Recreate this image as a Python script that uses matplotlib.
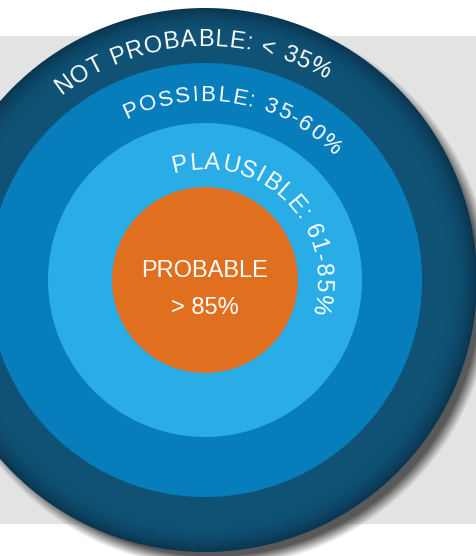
import numpy as np
import matplotlib
matplotlib.use('Agg')
import matplotlib.pyplot as plt
from matplotlib.patches import Circle, Rectangle
from matplotlib.font_manager import FontProperties, findfont, get_font

# Категории и диапазоны вероятности (от внешнего кольца к центру)
categories = ['NOT PROBABLE', 'POSSIBLE', 'PLAUSIBLE', 'PROBABLE']
ranges = ['< 35%', '35-60%', '61-85%', '> 85%']

# Оформление
colors = ['#0f5275', '#087dbb', '#2aace6', '#e07020']
radii = [272, 217, 157, 93]
cx, cy = 205, 280
W, H = 477, 556
DPI = 100
FAMILY = 'Liberation Sans'

fig = plt.figure(figsize=(W / DPI, H / DPI), dpi=DPI)
ax = fig.add_axes([0, 0, 1, 1])
ax.set_xlim(0, W)
ax.set_ylim(H, 0)
ax.set_aspect('equal')
ax.axis('off')

# Серая полоса фона
ax.add_patch(Rectangle((0, 36), W, 487, color='#e3e3e3', zorder=0))

# Тень от внешнего круга (размытая)
yy, xx = np.mgrid[0:H, 0:W] + 0.5
d_sh = np.hypot(xx - (cx + 9), yy - (cy + 10))
blur = 6.0
a_sh = np.clip((radii[0] + blur - d_sh) / (2 * blur), 0, 1) * 0.97
shadow = np.zeros((H, W, 4))
shadow[..., :3] = 0.33
shadow[..., 3] = a_sh
ax.imshow(shadow, extent=(0, W, H, 0), zorder=1, interpolation='bilinear')

# Внешнее кольцо с радиальным градиентом (темнее к краю)
d = np.hypot(xx - cx, yy - cy)
t = np.clip((d - 245) / (radii[0] - 245), 0, 1) ** 1.8
c_in = np.array(matplotlib.colors.to_rgb(colors[0]))
c_out = np.array(matplotlib.colors.to_rgb('#0a3550'))
ring = np.zeros((H, W, 4))
ring[..., :3] = c_in * (1 - t[..., None]) + c_out * t[..., None]
ring[..., 3] = np.clip(radii[0] + 0.5 - d, 0, 1)
ax.imshow(ring, extent=(0, W, H, 0), zorder=2, interpolation='bilinear')

# Внутренние круги
for r, c in zip(radii[1:], colors[1:]):
    ax.add_patch(Circle((cx, cy), r, color=c, zorder=3, lw=0))


def char_adv(ch, fs):
    fp = FontProperties(family=FAMILY, size=fs)
    font = get_font(findfont(fp))
    font.set_size(fs, DPI)
    return font.load_char(ord(ch)).linearHoriAdvance / 65536


def arc_text(s, r, start_deg, end_deg, fs):
    # Текст по дуге, по часовой стрелке, с разрядкой под заданный угол
    advs = [char_adv(ch, fs) for ch in s]
    arc = np.radians(start_deg - end_deg) * r
    track = (arc - sum(advs)) / (len(s) - 1)
    pos = 0.0
    for ch, a in zip(s, advs):
        th = np.radians(start_deg) - (pos + a / 2) / r
        x = cx + r * np.cos(th)
        y = cy - r * np.sin(th)
        ax.text(x, y, ch, rotation=np.degrees(th) - 90, rotation_mode='anchor',
                ha='center', va='baseline', fontsize=fs, color='white',
                family=FAMILY, zorder=5)
        pos += a + track


arc_text(categories[0] + ': ' + ranges[0], 234, 128, 59, 17)
arc_text(categories[1] + ': ' + ranges[1], 179, 116, 44, 16)
arc_text(categories[2] + ': ' + ranges[2], 111, 106.5, -17, 17)

# Центр
ax.text(cx, 271, categories[3], ha='center', va='center', fontsize=17,
        color='white', family=FAMILY, zorder=5)
ax.text(cx, 308, ranges[3], ha='center', va='center', fontsize=17,
        color='white', family=FAMILY, zorder=5)

fig.savefig('out.png', dpi=DPI)
